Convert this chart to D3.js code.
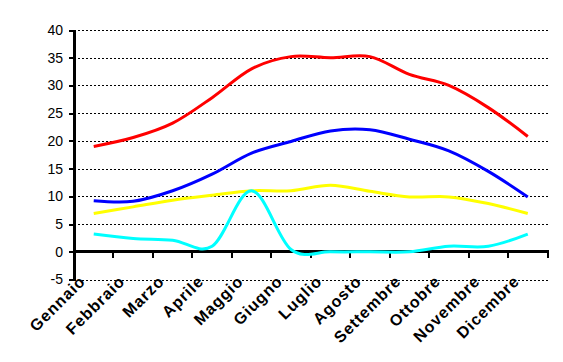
<!DOCTYPE html>
<html>
<head>
<meta charset="utf-8">
<script src="https://cdn.jsdelivr.net/npm/d3@7/dist/d3.min.js"></script>
<style>
  html, body { margin: 0; padding: 0; background: #fff; }
  svg { display: block; }
</style>
</head>
<body>
<svg id="chart" width="563" height="362"></svg>
<script>
const months = ["Gennaio","Febbraio","Marzo","Aprile","Maggio","Giugno","Luglio","Agosto","Settembre","Ottobre","Novembre","Dicembre"];
const redValues    = [19, 20.6, 23.2, 27.8, 33, 35.2, 35, 35.2, 32, 30, 26, 20.8];
const blueValues   = [9.2, 9.1, 11, 14, 17.8, 19.9, 21.8, 22, 20.3, 18.2, 14.5, 9.9];
const yellowValues = [6.9, 8.1, 9.3, 10.2, 11, 11, 12, 10.9, 9.9, 9.9, 8.7, 6.9];
const cyanValues   = [3.2, 2.4, 2.1, 1, 11, 0.4, 0, 0, 0, 1, 1, 3.2];
const yTicks = [-5, 0, 5, 10, 15, 20, 25, 30, 35, 40];

const series = [
  {values: redValues, color: "#FF0000"},
  {values: blueValues, color: "#0000FF"},
  {values: yellowValues, color: "#FFFF00"},
  {values: cyanValues, color: "#00FFFF"}
];

const svg = d3.select("#chart");
const plotLeft = 74, plotRight = 547.5, plotTop = 30, plotBottom = 279.5;

const x = d3.scaleBand().domain(months).range([plotLeft, plotRight]).paddingInner(0).paddingOuter(0);
const y = d3.scaleLinear().domain([-5, 40]).range([plotBottom, plotTop]);
const cx = m => x(m) + x.bandwidth() / 2;

// gridlines
svg.append("g").selectAll("line")
  .data(yTicks.filter(t => t !== 0))
  .join("line")
  .attr("x1", plotLeft).attr("x2", plotRight + 1)
  .attr("y1", d => Math.round(y(d)) + 0.5).attr("y2", d => Math.round(y(d)) + 0.5)
  .attr("stroke", "#000").attr("stroke-width", 1).attr("stroke-dasharray", "2,2")
  .attr("shape-rendering", "crispEdges");

// y axis
const yAxis = d3.axisLeft(y).tickValues(yTicks).tickSize(5).tickSizeOuter(0).tickPadding(6)
  .tickFormat(d => d < 0 ? "-" + Math.abs(d) : d);
const gy = svg.append("g").attr("transform", `translate(${plotLeft},0)`).call(yAxis);
gy.select(".domain").attr("stroke", "#000").attr("stroke-width", 3).attr("shape-rendering", "crispEdges");
gy.selectAll(".tick line").attr("stroke", "#000").attr("stroke-width", 2).attr("shape-rendering", "crispEdges");
gy.selectAll(".tick text").attr("font-family", "Liberation Sans, Arial, sans-serif")
  .attr("font-size", 14).attr("fill", "#000").attr("x", -11);

// x axis line at 0
const y0 = y(0);
svg.append("line").attr("x1", plotLeft - 1.5).attr("x2", plotRight + 1).attr("y1", y0).attr("y2", y0)
  .attr("stroke", "#000").attr("stroke-width", 3).attr("shape-rendering", "crispEdges");
const bounds = months.map(m => x(m) + x.step());
svg.append("g").selectAll("line").data(bounds).join("line")
  .attr("x1", d => d).attr("x2", d => d)
  .attr("y1", y0).attr("y2", y0 + 6)
  .attr("stroke", "#000").attr("stroke-width", 2).attr("shape-rendering", "crispEdges");

// x labels
svg.append("g").selectAll("text").data(months).join("text")
  .attr("transform", d => `translate(${cx(d) - 7.3},${282.3}) rotate(-45)`)
  .attr("text-anchor", "end")
  .attr("font-family", "Liberation Sans, Arial, sans-serif")
  .attr("font-weight", "bold").attr("font-size", 16).attr("letter-spacing", 1)
  .attr("fill", "#000")
  .text(d => d);

// series lines
const line = d3.line().x((d, i) => cx(months[i])).y(d => y(d)).curve(d3.curveCatmullRom.alpha(0));
svg.append("g").selectAll("path").data(series).join("path")
  .attr("d", s => line(s.values))
  .attr("fill", "none").attr("stroke", s => s.color)
  .attr("stroke-width", 3).attr("stroke-linejoin", "round");
</script>
</body>
</html>
